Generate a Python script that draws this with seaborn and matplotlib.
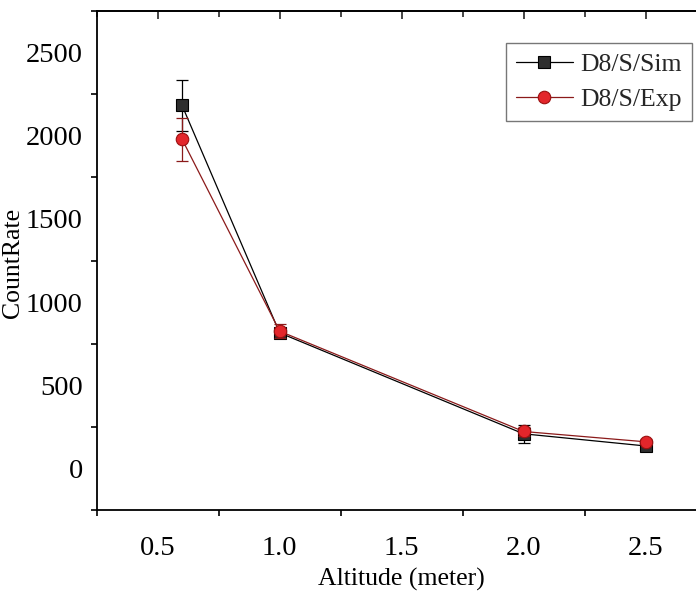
import matplotlib
matplotlib.use("Agg")
import matplotlib.pyplot as plt
import seaborn as sns
import pandas as pd
from matplotlib.ticker import MultipleLocator

altitude = [0.6, 1.0, 2.0, 2.5]
sim_values = [2182, 815, 208, 135]
sim_errors = [155, 28, 55, 12]
exp_values = [1979, 825, 222, 160]
exp_errors = [130, 42, 30, 15]
sim_label = "D8/S/Sim"
exp_label = "D8/S/Exp"

sns.set_theme(style="white")
plt.rcParams['font.family'] = ['Liberation Serif', 'DejaVu Serif']

df = pd.DataFrame({
    "Altitude": altitude * 2,
    "CountRate": sim_values + exp_values,
    "Series": [sim_label] * len(altitude) + [exp_label] * len(altitude),
})

fig = plt.figure(figsize=(6.96, 5.95), dpi=100)
ax = fig.add_axes([96.7 / 696, 85 / 595, (706.5 - 96.7) / 696, 499 / 595])

sim_color = "black"
exp_color = "#8b1a1a"

ax.errorbar(altitude, sim_values, yerr=sim_errors, fmt="none", ecolor=sim_color,
            elinewidth=0.9, capsize=4, capthick=0.9, zorder=2)
sns.lineplot(data=df[df.Series == sim_label], x="Altitude", y="CountRate", ax=ax,
             color=sim_color, linewidth=0.9, marker="s", markersize=8.5,
             markerfacecolor="#2e2e2e", markeredgecolor="black", markeredgewidth=0.8,
             label=sim_label, zorder=3)
ax.errorbar(altitude, exp_values, yerr=exp_errors, fmt="none", ecolor=exp_color,
            elinewidth=0.9, capsize=4, capthick=0.9, zorder=4)
sns.lineplot(data=df[df.Series == exp_label], x="Altitude", y="CountRate", ax=ax,
             color=exp_color, linewidth=0.9, marker="o", markersize=9,
             markerfacecolor="#e3262b", markeredgecolor="#9b1010", markeredgewidth=0.8,
             label=exp_label, zorder=5)

ax.set_xlim(0.25, 2.75)
ax.set_ylim(-250, 2750)
ax.xaxis.set_major_locator(MultipleLocator(0.5))
ax.xaxis.set_minor_locator(MultipleLocator(0.25))
ax.yaxis.set_major_locator(MultipleLocator(500))
ax.yaxis.set_minor_locator(MultipleLocator(250))
ax.set_xticks([0.5, 1.0, 1.5, 2.0, 2.5])
ax.set_xticklabels(["0.5", "1.0", "1.5", "2.0", "2.5"])
ax.set_yticks([0, 500, 1000, 1500, 2000, 2500])

ax.tick_params(axis="both", which="major", direction="out", length=6, width=1.2,
               labelsize=20.5, color="black", labelcolor="black", pad=4)
ax.tick_params(axis="both", which="minor", direction="out", length=4, width=1.2,
               color="black", left=True, bottom=True)
ax.tick_params(axis="x", pad=13)

for s in ax.spines.values():
    s.set_color("black")
    s.set_linewidth(1.3)

top = ax.secondary_xaxis("top")
top.xaxis.set_major_locator(MultipleLocator(0.5))
top.xaxis.set_minor_locator(MultipleLocator(0.25))
top.tick_params(which="major", direction="in", length=6, width=1.2, labeltop=False)
top.tick_params(which="minor", direction="in", length=4, width=1.2, top=True)
top.set_xticklabels([])
top.spines["top"].set_linewidth(1.3)

ax.set_xlabel("Altitude (meter)", fontsize=18.5, color="black", labelpad=5)
ax.set_ylabel("CountRate", fontsize=18.5, color="black")
ax.yaxis.set_label_coords(-0.119, 0.495)

leg = ax.legend(loc="upper right", bbox_to_anchor=((692 - 96.7) / 609.8, (510 - 43) / 499),
                borderaxespad=0, fontsize=18.5, frameon=True, fancybox=False,
                handlelength=2.2, handletextpad=0.3, borderpad=0.4, labelspacing=0.45)
leg.get_frame().set_edgecolor("#555555")
leg.get_frame().set_linewidth(1.0)

fig.savefig("out.png", dpi=100)
